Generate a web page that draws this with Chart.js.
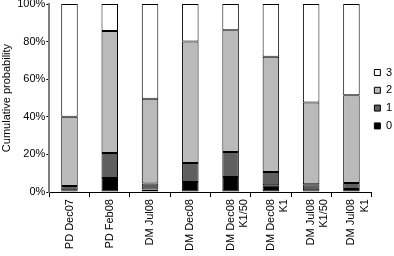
<!DOCTYPE html>
<html>
<head>
<meta charset="utf-8">
<script src="https://cdn.jsdelivr.net/npm/chart.js@4.4.1/dist/chart.umd.min.js"></script>
<style>
  html, body { margin: 0; padding: 0; background: #fff; }
  #wrap { width: 394px; height: 256px; position: relative; }
</style>
</head>
<body>
<div id="wrap"><canvas id="chart"></canvas></div>
<script>
// categories (multi-line labels)
const categories = [
    ['PD Dec07'],
    ['PD Feb08'],
    ['DM Jul08'],
    ['DM Dec08'],
    ['DM Dec08', 'K1/50'],
    ['DM Dec08', 'K1'],
    ['DM Jul08', 'K1/50'],
    ['DM Jul08', 'K1']
];

// share of each score (percent), stacked bottom to top
const score0 = [1.0, 7.5, 1.4, 5.3, 8.0, 3.6, 1.0, 1.6];
const score1 = [2.2, 13.3, 3.2, 10.2, 13.3, 7.1, 3.1, 3.2];
const score2 = [36.8, 64.8, 45.0, 64.5, 64.7, 61.3, 43.5, 46.7];
const score3 = [60.0, 14.4, 50.4, 20.0, 14.0, 28.0, 52.4, 48.5];

const yTicks = [0, 20, 40, 60, 80, 100];

const FONT = "'Liberation Sans', Arial, sans-serif";
Chart.defaults.font.family = FONT;
Chart.defaults.font.size = 11;
Chart.defaults.color = '#000';

function series(label, data, color) {
    return {
        label: label,
        data: data,
        backgroundColor: color,
        borderColor: '#000',
        borderWidth: 1,
        borderSkipped: false,
        categoryPercentage: 1.0,
        barPercentage: 0.41
    };
}

// nudge the legend a little to the left so its text fits inside the canvas
const legendNudge = {
    id: 'legendNudge',
    afterLayout(chart) {
        if (chart.legend) {
            chart.legend.left -= 4;
            chart.legend.right -= 4;
        }
    }
};

new Chart(document.getElementById('chart'), {
    type: 'bar',
    data: {
        labels: categories,
        datasets: [
            series('0', score0, '#000000'),
            series('1', score1, '#5f5f5f'),
            series('2', score2, '#bababa'),
            series('3', score3, '#ffffff')
        ]
    },
    plugins: [legendNudge],
    options: {
        responsive: true,
        maintainAspectRatio: false,
        animation: false,
        layout: { padding: { top: 4, right: -12, left: 0, bottom: 3 } },
        plugins: {
            legend: {
                position: 'right',
                reverse: true,
                align: 'start',
                title: {
                    display: true,
                    text: ' ',
                    padding: { top: 43, bottom: 0 }
                },
                labels: {
                    boxWidth: 6,
                    boxHeight: 6,
                    padding: 6.8,
                    color: '#000',
                    font: { size: 11, family: FONT }
                }
            },
            tooltip: { enabled: false }
        },
        scales: {
            x: {
                stacked: true,
                grid: {
                    offset: true,
                    drawOnChartArea: false,
                    tickLength: 5,
                    color: '#000'
                },
                border: { color: '#000', width: 1 },
                ticks: {
                    minRotation: 90,
                    maxRotation: 90,
                    autoSkip: false,
                    padding: 2,
                    font: { size: 11, family: FONT }
                }
            },
            y: {
                stacked: true,
                min: 0,
                max: 100,
                afterBuildTicks: axis => { axis.ticks = yTicks.map(v => ({ value: v })); },
                afterFit: axis => { axis.paddingTop = 0; },
                grid: {
                    drawOnChartArea: false,
                    tickLength: 3,
                    color: '#000'
                },
                border: { color: '#808080', width: 2 },
                ticks: {
                    padding: 1,
                    callback: v => v + '%',
                    font: { size: 11, family: FONT }
                },
                title: {
                    display: true,
                    text: 'Cumulative probability',
                    padding: { top: 0, bottom: 3 },
                    font: { size: 11, family: FONT }
                }
            }
        }
    }
});
</script>
</body>
</html>
